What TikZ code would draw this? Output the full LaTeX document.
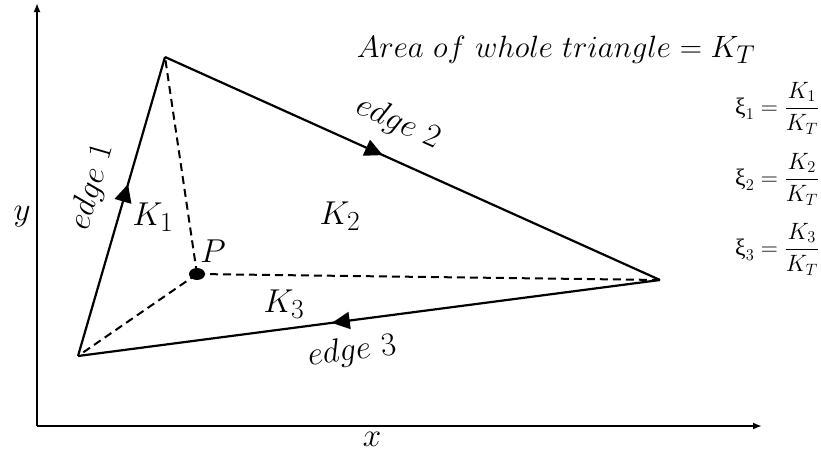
\documentclass[tikz,border=0pt]{standalone}
\usepackage{amsmath}
\usepackage{fontspec}
\newfontfamily\grk{Liberation Serif}
\usetikzlibrary{arrows.meta,decorations.markings,shapes.geometric}
\tikzset{
  edgeline/.style={line width=2.2pt},
  dashline/.style={line width=2pt, dash pattern=on 8pt off 5pt},
  axisline/.style={line width=2.4pt, -{Latex[length=9pt,width=7pt]}},
  midarrow/.style={postaction={decorate}, decoration={markings, mark=at position #1 with {\arrow{Triangle[length=18pt,width=17pt]}}}},
  lbl/.style={font=\fontsize{24.88}{30}\selectfont, inner sep=0pt, scale=1.33},
  ttl/.style={font=\fontsize{24.88}{30}\selectfont, inner sep=0pt, scale=1.24},
  eqn/.style={font=\fontsize{20.74}{25}\selectfont, inner sep=0pt, anchor=base west, scale=1.14},
}
\newcommand{\xisym}{\text{\grk ξ}}
\newcommand{\myfrac}[2]{\dfrac{#1\rule[-3pt]{0pt}{3pt}}{\rule{0pt}{17pt}#2}}
\begin{document}
\begin{tikzpicture}[x=1pt,y=-1pt]
\useasboundingbox (0,0) rectangle (821,455);
% axes
\coordinate (O) at (37,426);
\coordinate (Ytop) at (37,3);
\coordinate (Xend) at (762,426);
\draw[axisline] (O) -- (Ytop);
\draw[axisline] (O) -- (Xend);
\node[lbl] (ylab) at (22,217) {$y$};
\node[lbl] (xlab) at (372,439) {$x$};
% vertices
\coordinate (A) at (78,356);
\coordinate (B) at (165,57);
\coordinate (C) at (660,280);
\node[fill, ellipse, minimum width=16pt, minimum height=12pt, inner sep=0pt] (P) at (197,274) {};
% dashed lines
\draw[dashline] (P.center) -- (A);
\draw[dashline] (P.center) -- (B);
\draw[dashline] (P.center) -- (C);
% edges
\draw[edgeline, midarrow=0.575] (A) -- (B);
\draw[edgeline, midarrow=0.44] (B) -- (C);
\draw[edgeline, midarrow=0.564] (C) -- (A);
% labels
\node[lbl, rotate=73.8] (e1) at (92,187) {$edge\ 1$};
\node[lbl, rotate=-24.3] (e2) at (398,123) {$edge\ 2$};
\node[lbl, rotate=7.3] (e3) at (352,352) {$edge\ 3$};
\node[lbl] (k1) at (153,217) {$K_1$};
\node[lbl] (k2) at (340,216) {$K_2$};
\node[lbl] (k3) at (284,304) {$K_3$};
\node[lbl] (plab) at (213,251) {$P$};
\node[ttl, anchor=base] (area) at (556,57) {$Area\ of\ whole\ triangle = K_T$};
\node[eqn] (xi1) at (735,114) {$\xisym_1 = \myfrac{K_1}{K_T}$};
\node[eqn] (xi2) at (735,185) {$\xisym_2 = \myfrac{K_2}{K_T}$};
\node[eqn] (xi3) at (735,255) {$\xisym_3 = \myfrac{K_3}{K_T}$};
\end{tikzpicture}
\end{document}
